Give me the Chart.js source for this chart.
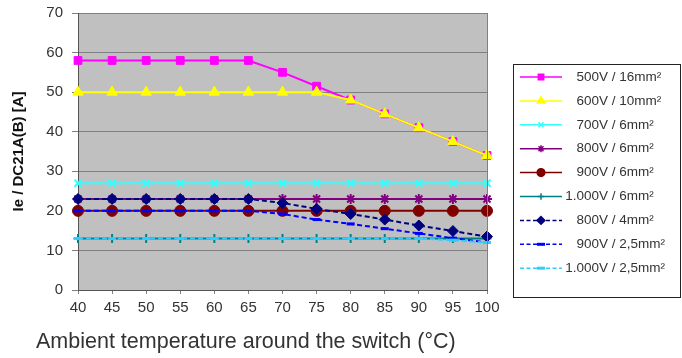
<!DOCTYPE html>
<html>
<head>
<meta charset="UTF-8">
<title>Ie / DC21A(B) vs temperature</title>
<script src="https://cdn.jsdelivr.net/npm/chart.js"></script>
<style>
  html, body { margin: 0; padding: 0; background: #fff; }
  #wrap { width: 682px; height: 358px; }
</style>
</head>
<body>
<div id="wrap"><canvas id="grafico" width="682" height="358"></canvas></div>
<script>
// temperatures (°C)
const temps = [40, 45, 50, 55, 60, 65, 70, 75, 80, 85, 90, 95, 100];

// Ie / DC21A(B) [A]
const v500_16 = [58, 58, 58, 58, 58, 58, 55, 51.5, 48, 44.5, 41, 37.5, 34];
const v600_10 = [50, 50, 50, 50, 50, 50, 50, 50, 48, 44.5, 41, 37.5, 34];
const v700_6 = [27, 27, 27, 27, 27, 27, 27, 27, 27, 27, 27, 27, 27];
const v800_6 = [23, 23, 23, 23, 23, 23, 23, 23, 23, 23, 23, 23, 23];
const v900_6 = [20, 20, 20, 20, 20, 20, 20, 20, 20, 20, 20, 20, 20];
const v1000_6 = [13, 13, 13, 13, 13, 13, 13, 13, 13, 13, 13, 13, 13];
const v800_4 = [23, 23, 23, 23, 23, 23, 22, 20.5, 19.2, 17.8, 16.3, 14.9, 13.5];
const v900_25 = [20, 20, 20, 20, 20, 20, 19.2, 17.8, 16.7, 15.5, 14.3, 13.1, 12];
const v1000_25 = [13, 13, 13, 13, 13, 13, 13, 13, 13, 13, 13, 12.6, 12];

const yTicks = [0, 10, 20, 30, 40, 50, 60, 70];

const FONT = '"Liberation Sans", Arial, sans-serif';

function serie(label, data, color, style, radius, dashed) {
    return {
        label: label,
        data: data,
        borderColor: color,
        backgroundColor: color,
        borderWidth: 2,
        borderDash: dashed ? [5, 3] : [],
        pointStyle: style,
        pointRadius: radius,
        pointHoverRadius: radius,
        pointBorderColor: color,
        pointBackgroundColor: color,
        pointBorderWidth: (style === 'line' ? 3 : (style === 'crossRot' || style === 'star' || style === 'cross') ? 2 : 1),
        tension: 0
    };
}

const datasets = [
    serie('500V / 16mm²', v500_16, '#ff00ff', 'rect', 5.5),
    serie('600V / 10mm²', v600_10, '#ffff00', 'triangle', 6),
    serie('700V / 6mm²', v700_6, '#33ffff', 'crossRot', 5),
    serie('800V / 6mm²', v800_6, '#800080', 'star', 5),
    serie('900V / 6mm²', v900_6, '#800000', 'circle', 5.5),
    serie('1.000V / 6mm²', v1000_6, '#008080', 'cross', 4.5),
    serie('800V / 4mm²', v800_4, '#000080', 'rectRot', 5.5, true),
    serie('900V / 2,5mm²', v900_25, '#0000ff', 'line', 4, true),
    serie('1.000V / 2,5mm²', v1000_25, '#33ccff', 'line', 4, true)
];
// later series drawn on top, like the original
datasets.forEach((d, i) => { d.order = datasets.length - i; });

const fondo = {
    id: 'fondo',
    beforeDraw(chart) {
        const a = chart.chartArea, ctx = chart.ctx;
        ctx.save();
        ctx.fillStyle = '#c0c0c0';
        ctx.fillRect(a.left, a.top, a.right - a.left, a.bottom - a.top);
        ctx.restore();
    },
    afterDraw(chart) {
        const a = chart.chartArea, ctx = chart.ctx;
        ctx.save();
        // right border of plot
        ctx.strokeStyle = '#808080';
        ctx.lineWidth = 1;
        ctx.beginPath();
        ctx.moveTo(a.right + 0.5, a.top);
        ctx.lineTo(a.right + 0.5, a.bottom);
        ctx.stroke();

        // x axis title
        ctx.fillStyle = '#333';
        ctx.font = '21.5px ' + FONT;
        ctx.textBaseline = 'middle';
        ctx.textAlign = 'left';
        ctx.fillText('Ambient temperature around the switch (°C)', 36, 342);

        // legend
        const lx = 513, ly = 64, lw = 167, lh = 233;
        ctx.fillStyle = '#fff';
        ctx.fillRect(lx, ly, lw, lh);
        ctx.strokeStyle = '#222';
        ctx.lineWidth = 1;
        ctx.strokeRect(lx + 0.5, ly + 0.5, lw, lh);
        ctx.font = '13.5px ' + FONT;
        chart.data.datasets.forEach((d, i) => {
            const y = 77 + i * 23.9;
            ctx.save();
            ctx.strokeStyle = d.borderColor;
            ctx.fillStyle = d.borderColor;
            ctx.lineWidth = 1.5;
            ctx.setLineDash(d.borderDash.length ? [4, 2.5] : []);
            ctx.beginPath();
            ctx.moveTo(520, y);
            ctx.lineTo(562, y);
            ctx.stroke();
            ctx.setLineDash([]);
            ctx.lineWidth = d.pointStyle === 'line' ? 3 : 1.5;
            Chart.helpers.drawPoint(ctx, {
                pointStyle: d.pointStyle,
                radius: d.pointStyle === 'line' ? 4 : d.pointRadius * 0.7,
                borderWidth: ctx.lineWidth
            }, 541, y);
            ctx.restore();
            // voltage right-aligned on the "V"
            const vEnd = d.label.indexOf('V') + 1;
            const w = ctx.measureText(d.label.slice(0, vEnd)).width;
            ctx.fillStyle = '#333';
            ctx.textAlign = 'left';
            ctx.textBaseline = 'middle';
            ctx.fillText(d.label, 608 - w, y);
        });
        ctx.restore();
    }
};

new Chart(document.getElementById('grafico').getContext('2d'), {
    type: 'line',
    data: { labels: temps, datasets: datasets },
    plugins: [fondo],
    options: {
        responsive: false,
        animation: false,
        layout: { padding: { left: 0, top: 13, right: 195, bottom: 0 } },
        plugins: {
            legend: { display: false },
            tooltip: { enabled: false }
        },
        scales: {
            x: {
                offset: false,
                afterFit: s => { s.height = 68; s.paddingLeft = 0; s.paddingRight = 0; },
                grid: { display: true, drawOnChartArea: false, drawTicks: true, tickLength: 4, color: '#808080' },
                border: { display: true, color: '#555', width: 1 },
                ticks: { color: '#333', font: { family: FONT, size: 15 }, padding: 5, maxRotation: 0, autoSkip: false }
            },
            y: {
                min: 0,
                max: 70,
                afterFit: s => { s.width = 78; s.paddingTop = 0; s.paddingBottom = 0; },
                afterBuildTicks: s => { s.ticks = yTicks.map(v => ({ value: v })); },
                grid: { color: '#808080', lineWidth: 1, drawTicks: true, tickLength: 6 },
                border: { display: true, color: '#555', width: 1 },
                ticks: { color: '#333', font: { family: FONT, size: 15 }, padding: 9 },
                title: {
                    display: true,
                    text: 'Ie / DC21A(B) [A]',
                    color: '#111',
                    font: { family: FONT, size: 15, weight: 'bold' },
                    padding: { top: 10, bottom: 0 }
                }
            }
        }
    }
});
</script>
</body>
</html>
